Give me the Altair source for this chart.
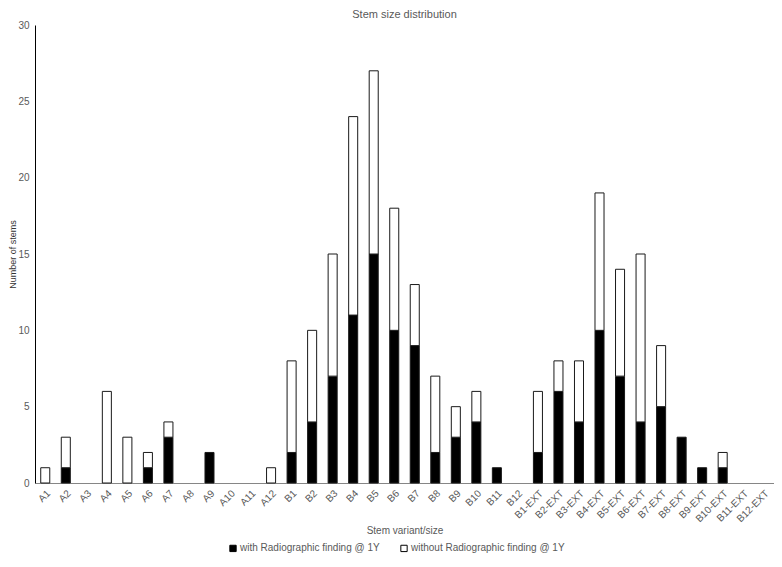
import altair as alt
import pandas as pd

categories = ["A1", "A2", "A3", "A4", "A5", "A6", "A7", "A8", "A9", "A10", "A11", "A12",
              "B1", "B2", "B3", "B4", "B5", "B6", "B7", "B8", "B9", "B10", "B11", "B12",
              "B1-EXT", "B2-EXT", "B3-EXT", "B4-EXT", "B5-EXT", "B6-EXT", "B7-EXT",
              "B8-EXT", "B9-EXT", "B10-EXT", "B11-EXT", "B12-EXT"]
with_finding = [0, 1, 0, 0, 0, 1, 3, 0, 2, 0, 0, 0,
                2, 4, 7, 11, 15, 10, 9, 2, 3, 4, 1, 0,
                2, 6, 4, 10, 7, 4, 5, 3, 1, 1, 0, 0]
without_finding = [1, 2, 0, 6, 3, 1, 1, 0, 0, 0, 0, 1,
                   6, 6, 8, 13, 12, 8, 4, 5, 2, 2, 0, 0,
                   4, 2, 4, 9, 7, 11, 4, 0, 0, 1, 0, 0]
series = ["with Radiographic finding @ 1Y", "without Radiographic finding @ 1Y"]

rows = []
for c, w, wo in zip(categories, with_finding, without_finding):
    rows.append({"cat": c, "series": series[0], "value": w, "ord": 0})
    rows.append({"cat": c, "series": series[1], "value": wo, "ord": 1})
df = pd.DataFrame(rows)

FONT = "Liberation Sans"
GREY = "#595959"

chart = alt.Chart(df).transform_filter(
    alt.datum.value > 0
).mark_bar(stroke="#1a1a1a", strokeWidth=1).encode(
    x=alt.X("cat:N", sort=categories,
            scale=alt.Scale(domain=categories, paddingInner=0.56, paddingOuter=0.28),
            axis=alt.Axis(title="Stem variant/size", labelAngle=-45, ticks=False,
                          labelPadding=5, domainColor="#868686", labelColor=GREY,
                          labelFontSize=10, titleFontSize=10, titleColor=GREY,
                          titleFontWeight="normal", titleY=47, titleBaseline="middle",
                          labelFont=FONT, titleFont=FONT, grid=False)),
    y=alt.Y("value:Q", stack="zero",
            scale=alt.Scale(domain=[0, 30], nice=False),
            axis=alt.Axis(title="Number of stems", values=[0, 5, 10, 15, 20, 25, 30],
                          ticks=False, grid=False, domainColor="#000000",
                          labelColor=GREY, labelFontSize=10, titleFontSize=9,
                          titleColor="#333333", titleFontWeight="normal",
                          titleX=-23, titleY=229, titleAngle=270, titleBaseline="middle",
                          titleAlign="center",
                          labelPadding=6, labelFont=FONT, titleFont=FONT)),
    fill=alt.Fill("series:N", scale=alt.Scale(domain=series, range=["#000000", "#ffffff"]),
                  legend=alt.Legend(title=None, orient="none", direction="horizontal",
                                    legendX=193, legendY=518, symbolType="square",
                                    symbolSize=40, symbolStrokeColor="#000000",
                                    symbolStrokeWidth=1, labelFontSize=10,
                                    labelColor=GREY, labelFont=FONT, labelOffset=2,
                                    columnPadding=18, labelLimit=300)),
    order=alt.Order("ord:Q"),
).properties(
    width=739,
    height=458,
    title=alt.TitleParams("Stem size distribution", fontSize=11, color=GREY,
                          fontWeight="normal", font=FONT, offset=0),
    autosize=alt.AutoSizeParams(type="none"),
    padding={"left": 27, "top": 17, "right": 0, "bottom": 76},
).configure_view(stroke=None)

chart.save("out.html", embed_options={"renderer": "svg", "actions": False})
